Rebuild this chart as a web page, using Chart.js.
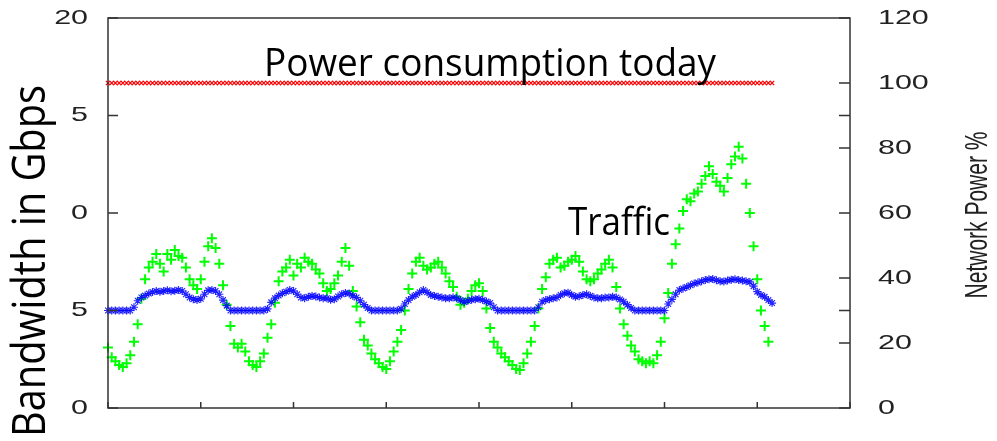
<!DOCTYPE html>
<html>
<head>
<meta charset="utf-8">
<script src="https://cdn.jsdelivr.net/npm/chart.js@4/dist/chart.umd.min.js"></script>
<style>
  html, body { margin: 0; padding: 0; background: #fff; }
  #chart { display: block; }
</style>
</head>
<body>
<canvas id="chart" width="997" height="441"></canvas>
<script>
// Traffic in Gbps, one value per sample (left axis)
const traffic = [
  3.1, 2.6, 2.4, 2.2, 2.1, 2.3, 2.7, 3.4, 4.3, 5.6,
  6.6, 7.2, 7.5, 7.9, 7.4, 7.0, 7.9, 7.6, 8.1, 7.8,
  7.7, 7.2, 6.6, 6.3, 6.1, 6.6, 7.5, 8.3, 8.7, 8.2,
  7.4, 6.3, 5.3, 4.2, 3.3, 3.1, 3.3, 2.9, 2.4, 2.2,
  2.1, 2.4, 2.8, 3.6, 4.3, 5.4, 6.5, 7.0, 7.2, 7.6,
  6.8, 7.4, 7.2, 7.7, 7.5, 7.4, 7.1, 6.9, 6.4, 6.0,
  6.1, 6.4, 6.8, 7.5, 8.2, 7.3, 6.0, 5.2, 4.4, 3.5,
  3.2, 2.8, 2.5, 2.3, 2.1, 2.0, 2.4, 2.9, 3.4, 4.0,
  5.0, 6.1, 6.9, 7.5, 7.7, 7.3, 7.1, 7.2, 7.4, 7.5,
  7.2, 6.9, 6.5, 6.2, 5.7, 5.3, 5.4, 5.6, 6.0, 6.3,
  6.4, 6.0, 5.1, 4.1, 3.4, 3.1, 2.8, 2.6, 2.4, 2.2,
  2.0, 1.95, 2.3, 2.8, 3.4, 4.2, 5.1, 6.1, 6.7, 7.4,
  7.6, 7.7, 7.2, 7.3, 7.5, 7.6, 7.8, 7.5, 7.0, 6.6,
  6.5, 6.6, 6.9, 7.1, 7.4, 7.6, 7.2, 6.2, 5.1, 4.3,
  3.7, 3.2, 2.9, 2.5, 2.4, 2.3, 2.4, 2.3, 2.7, 3.4,
  4.6, 5.9, 7.4, 8.4, 9.2, 10.1, 10.7, 10.6, 11.0, 11.1,
  11.5, 11.9, 12.4, 12.0, 11.6, 11.4, 11.1, 11.8, 12.5, 12.9,
  13.4, 12.8, 11.5, 10.0, 8.3, 6.6, 5.0, 4.2, 3.4
];

// Network power in % (right axis)
const networkPower = [
  30, 30, 30, 30, 30, 30, 30, 31, 33, 34,
  34.6, 35.2, 35.7, 36, 35.8, 36, 36.2, 35.9, 36.1, 36.3,
  36, 35, 34, 33.5, 33.2, 33.6, 35, 36.2, 36.3, 36,
  35, 33.2, 31.5, 30, 30, 30, 30, 30, 30, 30,
  30, 30, 30, 30.5, 32.5, 33.8, 34.6, 35.3, 35.8, 36.3,
  36, 35, 34, 33.8, 34.2, 34.5, 34.3, 34, 33.8, 33.8,
  33.3, 33.5, 34.3, 35, 35.4, 35.2, 34.5, 34, 33, 31.8,
  30.8, 30, 30, 30, 30, 30, 30, 30, 30, 30.5,
  32, 33.2, 34.2, 34.8, 35.6, 36.3, 35.6, 34.8, 34.5, 34.2,
  34, 33.8, 33.8, 34, 33.8, 33.2, 32.6, 33, 33.3, 33.5,
  33.6, 33.2, 32.8, 32.3, 31, 30, 30, 30, 30, 30,
  30, 30, 30, 30, 30, 30, 31, 32.7, 33.2, 33.5,
  33.8, 34, 34.8, 35.3, 35.5, 34.8, 34.2, 34.4, 34.8, 35,
  34.5, 34, 33.8, 33.8, 34, 34, 34.2, 34, 33.4, 32.7,
  31.8, 30.8, 30, 30, 30, 30, 30, 30, 30, 30,
  30, 32, 33.4, 35, 36.3, 36.8, 37.2, 37.8, 38.3, 38.6,
  39, 39.4, 39.6, 39.7, 39.3, 39, 38.9, 39.2, 39.5, 39.6,
  39.4, 39.2, 39, 38.8, 37.5, 35.8, 34.8, 34.2, 33.2, 32.3
];

// Power consumption today in % (right axis)
const powerToday = [
  100, 100, 100, 100, 100, 100, 100, 100, 100, 100,
  100, 100, 100, 100, 100, 100, 100, 100, 100, 100,
  100, 100, 100, 100, 100, 100, 100, 100, 100, 100,
  100, 100, 100, 100, 100, 100, 100, 100, 100, 100,
  100, 100, 100, 100, 100, 100, 100, 100, 100, 100,
  100, 100, 100, 100, 100, 100, 100, 100, 100, 100,
  100, 100, 100, 100, 100, 100, 100, 100, 100, 100,
  100, 100, 100, 100, 100, 100, 100, 100, 100, 100,
  100, 100, 100, 100, 100, 100, 100, 100, 100, 100,
  100, 100, 100, 100, 100, 100, 100, 100, 100, 100,
  100, 100, 100, 100, 100, 100, 100, 100, 100, 100,
  100, 100, 100, 100, 100, 100, 100, 100, 100, 100,
  100, 100, 100, 100, 100, 100, 100, 100, 100, 100,
  100, 100, 100, 100, 100, 100, 100, 100, 100, 100,
  100, 100, 100, 100, 100, 100, 100, 100, 100, 100,
  100, 100, 100, 100, 100, 100, 100, 100, 100, 100,
  100, 100, 100, 100, 100, 100, 100, 100, 100, 100,
  100, 100, 100, 100, 100, 100, 100, 100, 100, 100
];

// Tick values
const xTicks = [0, 25, 50, 75, 100, 125, 150, 175, 200];
const leftTicks = [0, 5, 10, 15, 20];
const rightTicks = [0, 20, 40, 60, 80, 100, 120];

function toPoints(values) {
  return values.map((v, i) => ({ x: i, y: v }));
}

function setTicks(list) {
  return function(scale) {
    scale.ticks = list.map(v => ({ value: v }));
  };
}

// gnuplot text looks stretched sideways
function stretchedText(ctx, text, x, y, sx, align) {
  ctx.save();
  ctx.translate(x, y);
  ctx.scale(sx, 1);
  ctx.textAlign = align;
  ctx.fillText(text, 0, 0);
  ctx.restore();
}

function fittedText(ctx, text, x, y, width) {
  const w = ctx.measureText(text).width;
  ctx.save();
  ctx.translate(x, y);
  ctx.scale(width / w, 1);
  ctx.textAlign = 'left';
  ctx.fillText(text, 0, 0);
  ctx.restore();
}

const frameAndLabels = {
  id: 'frameAndLabels',
  afterDraw(chart) {
    const { ctx, chartArea: a, scales } = chart;
    const yL = scales.y, yR = scales.y2, xs = scales.x;

    ctx.save();
    // frame and inward ticks
    ctx.strokeStyle = '#333';
    ctx.lineWidth = 1.5;
    ctx.strokeRect(a.left, a.top, a.right - a.left, a.bottom - a.top);
    ctx.beginPath();
    yL.ticks.forEach(t => {
      const py = yL.getPixelForValue(t.value);
      ctx.moveTo(a.left, py); ctx.lineTo(a.left + 10, py);
      ctx.moveTo(a.right, py); ctx.lineTo(a.right - 11, py);
    });
    yR.ticks.forEach(t => {
      const py = yR.getPixelForValue(t.value);
      ctx.moveTo(a.right, py); ctx.lineTo(a.right - 11, py);
    });
    xs.ticks.forEach(t => {
      const px = xs.getPixelForValue(t.value);
      ctx.moveTo(px, a.bottom); ctx.lineTo(px, a.bottom - 6);
    });
    ctx.stroke();

    // tick labels
    ctx.fillStyle = '#222';
    ctx.font = '21px "Liberation Sans", Arial, sans-serif';
    ctx.textBaseline = 'middle';
    yL.ticks.forEach(t => {
      stretchedText(ctx, String(t.value), a.left - 20, yL.getPixelForValue(t.value), 1.45, 'right');
    });
    yR.ticks.forEach(t => {
      stretchedText(ctx, String(t.value), a.right + 28, yR.getPixelForValue(t.value), 1.45, 'left');
    });

    // right axis title
    ctx.save();
    ctx.translate(979, 215);
    ctx.scale(1.45, 1);
    ctx.rotate(-Math.PI / 2);
    ctx.textAlign = 'center';
    ctx.fillText('Network Power %', 0, 0);
    ctx.restore();

    // left axis title on a white box
    ctx.fillStyle = '#fff';
    ctx.fillRect(0, 60, 70, 381);
    ctx.fillStyle = '#000';
    ctx.textBaseline = 'alphabetic';
    ctx.font = '45px "Open Sans", sans-serif';
    ctx.save();
    ctx.translate(45, 437);
    ctx.rotate(-Math.PI / 2);
    fittedText(ctx, 'Bandwidth in Gbps', 0, 0, 352);
    ctx.restore();

    // annotations
    ctx.font = '39px "Open Sans", sans-serif';
    fittedText(ctx, 'Power consumption today', 264, 76, 452);
    fittedText(ctx, 'Traffic', 568, 235, 102);
    ctx.restore();
  }
};

new Chart(document.getElementById('chart'), {
  type: 'scatter',
  data: {
    datasets: [
      {
        label: 'Network Power %',
        data: toPoints(networkPower),
        yAxisID: 'y2',
        pointStyle: 'star',
        pointRadius: 4,
        pointBorderWidth: 1.2,
        borderColor: 'rgba(0, 0, 255, 0.85)',
        backgroundColor: 'rgba(0, 0, 255, 0.85)',
        clip: false,
        order: 0
      },
      {
        label: 'Traffic',
        data: toPoints(traffic),
        yAxisID: 'y',
        pointStyle: 'cross',
        pointRadius: 5,
        pointBorderWidth: 2,
        borderColor: '#00ff00',
        backgroundColor: '#00ff00',
        clip: false,
        order: 1
      },
      {
        label: 'Power consumption today',
        data: toPoints(powerToday),
        yAxisID: 'y2',
        pointStyle: 'crossRot',
        pointRadius: 3,
        pointBorderWidth: 1.3,
        borderColor: '#ff0000',
        backgroundColor: '#ff0000',
        clip: false,
        order: 2
      }
    ]
  },
  options: {
    responsive: false,
    animation: false,
    events: [],
    layout: { padding: { top: 18, left: 0, right: 0, bottom: 0 } },
    plugins: {
      legend: { display: false },
      tooltip: { enabled: false }
    },
    scales: {
      x: {
        type: 'linear',
        min: 0,
        max: 200,
        afterBuildTicks: setTicks(xTicks),
        ticks: { display: false },
        grid: { display: false },
        border: { display: false },
        afterFit: s => { s.height = 33; }
      },
      y: {
        position: 'left',
        min: 0,
        max: 20,
        afterBuildTicks: setTicks(leftTicks),
        ticks: { display: false },
        grid: { display: false },
        border: { display: false },
        afterFit: s => { s.width = 108; }
      },
      y2: {
        position: 'right',
        min: 0,
        max: 120,
        afterBuildTicks: setTicks(rightTicks),
        ticks: { display: false },
        grid: { display: false },
        border: { display: false },
        afterFit: s => { s.width = 147; }
      }
    }
  },
  plugins: [frameAndLabels]
});
</script>
</body>
</html>
